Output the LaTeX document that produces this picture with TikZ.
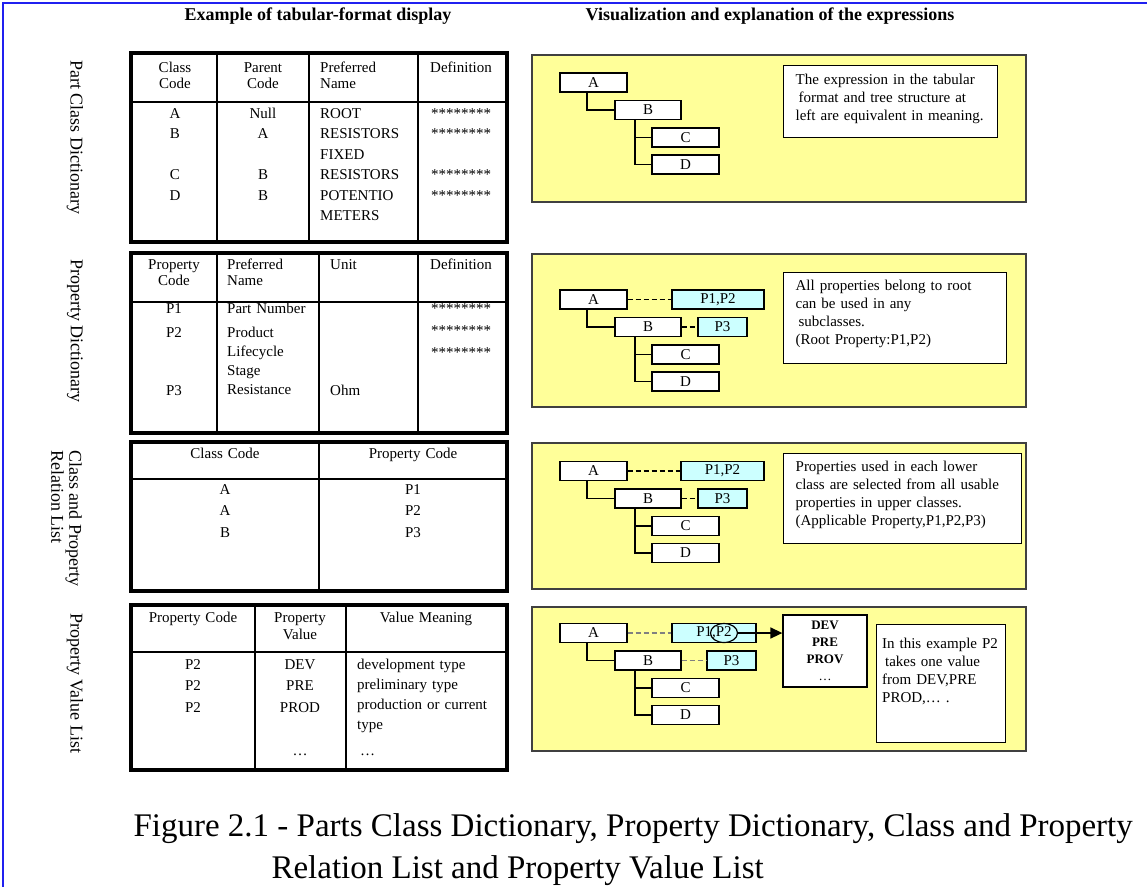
\documentclass[tikz,border=0pt]{standalone}
\usepackage{fontspec}
\setmainfont{Liberation Serif}
\usepackage{xcolor}
\usepackage{tikz}
\usetikzlibrary{positioning,shapes.geometric,arrows.meta}

\definecolor{panelyellow}{HTML}{FFFF99}
\definecolor{propcyan}{HTML}{CCFFFF}
\definecolor{frameblue}{HTML}{2020F0}
\newcommand{\stars}{********}

\begin{document}
\begin{tikzpicture}[x=1pt, y=-1pt,
  lead/.style={font=\fontsize{15}{#1}\selectfont},
  txt/.style={lead=20.5, inner sep=0pt, anchor=base, align=center, text width=120pt},
  ltxt/.style={txt, anchor=base west, align=left, text width=160pt},
  hdr/.style={lead=16.5},
  tbl/.style={line width=4pt},
  rule/.style={line width=1.2pt},
  panel/.style={draw=black!75, line width=1.2pt, fill=panelyellow},
  cls/.style={draw, fill=white, line width=1.3pt, minimum width=67pt, minimum height=19pt, inner sep=0pt, font=\fontsize{15}{18}\selectfont},
  prop/.style={cls, fill=propcyan},
  link/.style={line width=1.3pt},
  propline/.style={dash pattern=on 5pt off 3pt, line width=1.3pt},
  note/.style={draw, fill=white, line width=1.3pt, anchor=north west, align=left, inner ysep=0pt, inner xsep=12pt, font=\fontsize{15}{18}\selectfont},
  side/.style={rotate=-90, inner sep=0pt, font=\fontsize{18}{18}\selectfont}]
\useasboundingbox (0,0) rectangle (1147,887);
\draw [draw=frameblue, line width=2pt] (1147,3) -- (3,3) -- (3,887);

\node (hdtab) [font=\fontsize{18}{20}\selectfont\bfseries] at (318,16) {Example of tabular-format display};
\node (hdvis) [font=\fontsize{18}{20}\selectfont\bfseries] at (770,16) {Visualization and explanation of the expressions};

\node (lblpc) [side] at (75,137) {Part Class Dictionary};
\node (lblpd) [side] at (75,331) {Property Dictionary};
\node (lblcp) [side, anchor=north west, align=left] at (82,450) {Class and Property\\Relation List};
\node (lblpv) [side] at (75,683) {Property Value List};

% part class dictionary
\draw [rule] (217,53) -- (217,242) (309,53) -- (309,242) (418,53) -- (418,242) (131,102) -- (507,102);
\draw [tbl] (131,53) rectangle (507,242);
\node (pchcls) [txt, hdr] at (175,72) {Class\\Code};
\node (pchpar) [txt, hdr] at (263,72) {Parent\\Code};
\node (pchname) [ltxt, hdr] at (320,72) {Preferred\\Name};
\node (pchdef) [txt] at (461,72) {Definition};
\node (pccls) [txt] at (175,118) {A\\B\\[20.5pt]C\\D};
\node (pcpar) [txt] at (263,118) {Null\\A\\[20.5pt]B\\B};
\node (pcname) [ltxt] at (320,118) {ROOT\\RESISTORS\\FIXED\\RESISTORS\\POTENTIO\\METERS};
\node (pcdef) [txt] at (461,118) {\stars\\\stars\\[20.5pt]\stars\\\stars};

% property dictionary
\draw [rule] (217,253) -- (217,433) (319,253) -- (319,433) (418,253) -- (418,433) (131,302) -- (507,302);
\draw [tbl] (131,253) rectangle (507,433);
\node (pdhcode) [txt, hdr] at (174,269) {Property\\Code};
\node (pdhname) [ltxt, hdr] at (227,269) {Preferred\\Name};
\node (pdhunit) [ltxt] at (330,269) {Unit};
\node (pdhdef) [txt] at (461,269) {Definition};
\node (pdcode) [txt, lead=24] at (174,313) {P1\\P2};
\node (pdcode3) [txt] at (174,395) {P3};
\node (pdname1) [ltxt] at (227,313) {Part Number};
\node (pdname) [ltxt, lead=19.3] at (227,337) {Product\\Lifecycle\\Stage\\Resistance};
\node (pdunit) [ltxt] at (330,395) {Ohm};
\node (pddef) [txt, lead=22] at (461,313) {\stars\\\stars\\\stars};

% class and property relation list
\draw [rule] (319,442) -- (319,591) (131,479) -- (507,479);
\draw [tbl] (131,442) rectangle (507,591);
\node (crhcls) [txt] at (225,458) {Class Code};
\node (crhprop) [txt] at (413,458) {Property Code};
\node (crcls) [txt, lead=21.5] at (225,494) {A\\A\\B};
\node (crprop) [txt, lead=21.5] at (413,494) {P1\\P2\\P3};

% property value list
\draw [rule] (255,605) -- (255,770) (346,605) -- (346,770) (131,652) -- (507,652);
\draw [tbl] (131,605) rectangle (507,770);
\node (pvhcode) [txt] at (193,622) {Property Code};
\node (pvhval) [txt, lead=17] at (300,622) {Property\\Value};
\node (pvhmean) [txt] at (426,622) {Value Meaning};
\node (pvcode) [txt, lead=21.5] at (193,669) {P2\\P2\\P2};
\node (pvval) [txt, lead=21.5] at (300,669) {DEV\\PRE\\PROD};
\node (pvmean) [ltxt, lead=20.3] at (357,669) {development type\\preliminary type\\production or current\\type};
\node (pvvalmore) [txt] at (300,755) {\ldots};
\node (pvmeanmore) [ltxt] at (360,755) {\ldots};

% yellow panels
\draw [panel] (532,55) rectangle (1026,202);
\draw [panel] (532,254) rectangle (1026,407);
\draw [panel] (532,443) rectangle (1026,589);
\draw [panel] (532,607) rectangle (1026,751);

\foreach \n/\y in {1/82.5, 2/299.5, 3/471, 4/633} {
  \node (a\n) [cls] at (593.5,\y) {A};
  \node (b\n) [cls, minimum width=66pt] at (648,{\y+27.5}) {B};
  \node (c\n) [cls] at (685.5,{\y+55}) {C};
  \node (d\n) [cls] at (685.5,{\y+82}) {D};
  \draw [link] ([xshift=-6.5pt]a\n.south) |- (b\n.west);
  \draw [link] ([xshift=-13pt]b\n.south) |- (c\n.west);
  \draw [link] ([xshift=-13pt]b\n.south) |- (d\n.west);
}

\node (pp2) [prop, minimum width=92pt] at (718,299.5) {P1,P2};
\node (pq2) [prop, minimum width=49pt] at (722.5,327) {P3};
\node (pp3) [prop, minimum width=83pt] at (722.5,471) {P1,P2};
\node (pq3) [prop, minimum width=49pt] at (722.5,498.5) {P3};
\node (pp4) [prop, minimum width=84pt] at (714,633) {P1,P2};
\node (pq4) [prop, minimum width=49pt] at (731.5,660.5) {P3};
\draw [propline] (a2) -- (pp2);
\draw [propline] (b2) -- (pq2);
\draw [propline] (a3) -- (pp3);
\draw [propline] (b3) -- (pq3);
\draw [propline, draw=gray] (a4) -- (pp4);
\draw [propline, draw=gray] (b4) -- (pq4);

\node (pick) [draw, ellipse, line width=1.2pt, minimum width=27pt, minimum height=19pt, inner sep=0pt] at (724,633) {};
\node (vals) [draw, fill=white, line width=1.3pt, minimum width=84pt, minimum height=72pt, align=center, font=\fontsize{13}{17}\selectfont\bfseries] at (825,651) {DEV\\PRE\\PROV\\\mdseries\ldots};
\draw [line width=1.5pt, -{Triangle[length=12pt, width=11pt]}] (pick.east) -- (pick.east -| vals.west);

\node (note1) [note, text width=190pt, text height=19pt, text depth=53pt] at (783,65) {The expression in the tabular\\\hspace*{3pt}format and tree structure at\\left are equivalent in meaning.};
\node (note2) [note, text width=199pt, text height=18pt, text depth=73pt] at (783,272) {All properties belong to root\\can be used in any\\\hspace*{3pt}subclasses.\\(Root Property:P1,P2)};
\node (note3) [note, text width=214pt, text height=18pt, text depth=72pt] at (783,453) {Properties used in each lower\\class are selected from all usable\\properties in upper classes.\\(Applicable Property,P1,P2,P3)};
\node (note4) [note, inner xsep=5.5pt, text width=118pt, text height=24pt, text depth=94pt] at (876,624) {In this example P2\\\hspace*{3pt}takes one value\\from DEV,PRE\\PROD,\ldots{} .};

\node (cap1) [anchor=base west, font=\fontsize{33}{38}\selectfont] at (130,836) {Figure 2.1 - Parts Class Dictionary, Property Dictionary, Class and Property};
\node (cap2) [anchor=base west, font=\fontsize{33}{38}\selectfont] at (268,878) {Relation List and Property Value List};
\end{tikzpicture}
\end{document}
